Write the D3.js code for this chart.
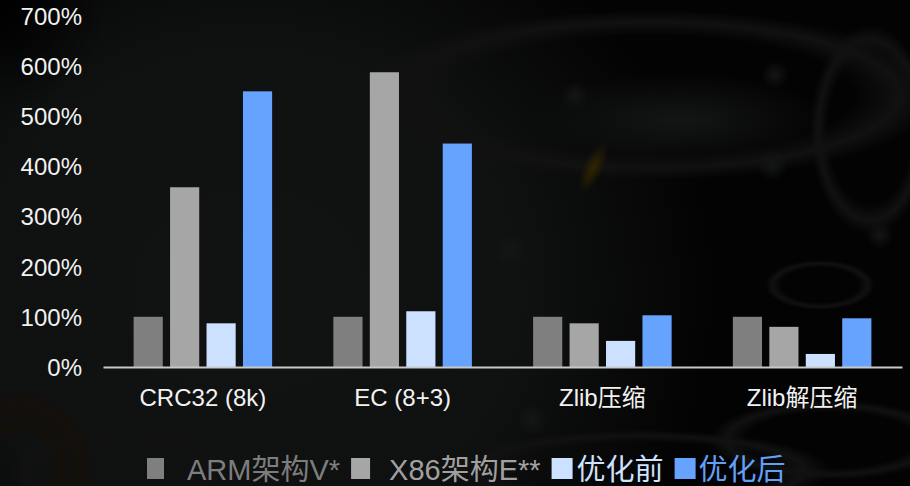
<!DOCTYPE html>
<html>
<head>
<meta charset="utf-8">
<script src="https://cdn.jsdelivr.net/npm/d3@7"></script>
<style>
  html, body { margin: 0; padding: 0; background: #000; }
  svg { display: block; }
  text { font-family: "Liberation Sans", Arial, "Noto Sans CJK SC", sans-serif; }
</style>
</head>
<body>
<svg id="chart" width="910" height="486"></svg>
<script>
// Relative performance, percent of the ARM baseline
const categories = ["CRC32 (8k)", "EC (8+3)", "Zlib压缩", "Zlib解压缩"];
const seriesNames = ["ARM架构V*", "X86架构E**", "优化前", "优化后"];
const armValues = [100, 100, 100, 100];
const x86Values = [358, 587, 87, 80];
const beforeValues = [87, 111, 52, 26];
const afterValues = [549, 445, 103, 97];
const yTicks = [0, 100, 200, 300, 400, 500, 600, 700];

const seriesValues = [armValues, x86Values, beforeValues, afterValues];
const barColors = ["#7f7f7f", "#a6a6a6", "#cce0ff", "#66a3ff"];
const legendTextColors = ["#7d7d7d", "#a0a0a0", "#cfe2ff", "#62a0f8"];

const width = 910, height = 486;
const svg = d3.select("#chart");
const defs = svg.append("defs");

// ---- dark, out-of-focus backdrop built from soft radial gradients ----
function radial(id, stops) {
  const g = defs.append("radialGradient").attr("id", id);
  stops.forEach(([o, c, a]) => g.append("stop").attr("offset", o)
    .attr("stop-color", c).attr("stop-opacity", a));
}
radial("haze", [[0, "#111212", 1], [0.6, "#0f1010", 1], [1, "#0f1010", 0]]);
radial("corner", [[0, "#000", 1], [1, "#000", 0]]);
radial("ringGrey", [[0.7, "#111111", 0], [0.86, "#111111", 1], [1, "#111111", 0]]);
radial("ringBrown", [[0.6, "#140f0a", 0], [0.8, "#140f0a", 1], [1, "#140f0a", 0]]);
radial("blobGrey", [[0, "#141515", 1], [1, "#141515", 0]]);
radial("blobAmber", [[0, "#302500", 1], [1, "#302500", 0]]);

const bg = svg.append("g");
bg.append("rect").attr("width", width).attr("height", height).attr("fill", "#030303");
bg.append("ellipse").attr("cx", 250).attr("cy", 290).attr("rx", 470).attr("ry", 420)
  .attr("fill", "url(#haze)");
bg.append("circle").attr("cx", 0).attr("cy", 0).attr("r", 110).attr("fill", "url(#corner)");

[[650, 95, 290, 85], [870, 130, 60, 105], [830, 440, 120, 40], [640, 470, 190, 40],
 [820, 285, 55, 25], [120, 470, 110, 40]]
  .forEach(([cx, cy, rx, ry]) => bg.append("ellipse").attr("cx", cx).attr("cy", cy)
    .attr("rx", rx).attr("ry", ry).attr("fill", "url(#ringGrey)"));
bg.append("ellipse").attr("cx", 680).attr("cy", 120).attr("rx", 150).attr("ry", 48)
  .attr("fill", "url(#blobGrey)");
[[510, 250, 18], [532, 420, 16], [772, 165, 16], [880, 235, 14], [575, 95, 14], [775, 75, 14]]
  .forEach(([cx, cy, r]) => bg.append("circle").attr("cx", cx).attr("cy", cy)
    .attr("r", r).attr("fill", "url(#blobGrey)"));
bg.append("ellipse").attr("cx", 593).attr("cy", 168).attr("rx", 10).attr("ry", 28)
  .attr("transform", "rotate(25,593,168)").attr("fill", "url(#blobAmber)");
[[20, 465, 75], [20, 465, 50]].forEach(([cx, cy, r]) =>
  bg.append("circle").attr("cx", cx).attr("cy", cy).attr("r", r).attr("fill", "url(#ringBrown)"));

// ---- scales ----
const x0 = d3.scaleBand().domain(categories).range([103, 902]).padding(0);
const x1 = d3.scaleBand().domain(d3.range(seriesNames.length))
  .range([0, x0.bandwidth()]).paddingInner(0.2).paddingOuter(0.84);
const y = d3.scaleLinear().domain([0, 700]).range([367, 15.5]);

// ---- y axis labels ----
const yAxis = svg.append("g").attr("transform", "translate(103,0)")
  .call(d3.axisLeft(y).tickValues(yTicks).tickFormat(d => d + "%").tickSize(0).tickPadding(21));
yAxis.select(".domain").remove();
yAxis.selectAll("text").attr("fill", "#f2f2f2").style("font-size", "24px")
  .style("font-family", "'Liberation Sans', Arial, sans-serif").attr("dy", "0.36em");

// ---- bars ----
const groups = svg.append("g").selectAll("g").data(categories).join("g")
  .attr("transform", d => `translate(${x0(d)},0)`);
groups.selectAll("rect")
  .data((c, ci) => seriesValues.map((vals, si) => ({ si, v: vals[ci] })))
  .join("rect")
  .attr("x", d => x1(d.si))
  .attr("width", x1.bandwidth())
  .attr("y", d => y(d.v))
  .attr("height", d => y(0) - y(d.v))
  .attr("fill", d => barColors[d.si]);

// ---- x axis ----
const xAxis = svg.append("g").attr("transform", `translate(0,${y(0)})`)
  .call(d3.axisBottom(x0).tickSize(0).tickSizeOuter(0).tickPadding(22));
xAxis.select(".domain").attr("stroke", "#c8c8c8").attr("stroke-width", 2);
xAxis.selectAll("text").attr("fill", "#f2f2f2").style("font-size", "24px")
  .style("font-family", "'Liberation Sans', Arial, 'Noto Sans CJK SC', sans-serif");

// ---- legend ----
const legend = svg.append("g");
const swatchGap = [23, 19, 4, 3];
const swatchW = [17, 19, 21, 21];
let cursor = 147;
seriesNames.forEach((name, i) => {
  legend.append("rect").attr("x", cursor).attr("y", 458)
    .attr("width", swatchW[i]).attr("height", 21).attr("fill", barColors[i]);
  const t = legend.append("text")
    .attr("x", cursor + swatchW[i] + swatchGap[i]).attr("y", 480)
    .attr("fill", legendTextColors[i]).style("font-size", "29px")
    .text(name);
  cursor = cursor + swatchW[i] + swatchGap[i] + t.node().getComputedTextLength() + 11;
});
</script>
</body>
</html>
